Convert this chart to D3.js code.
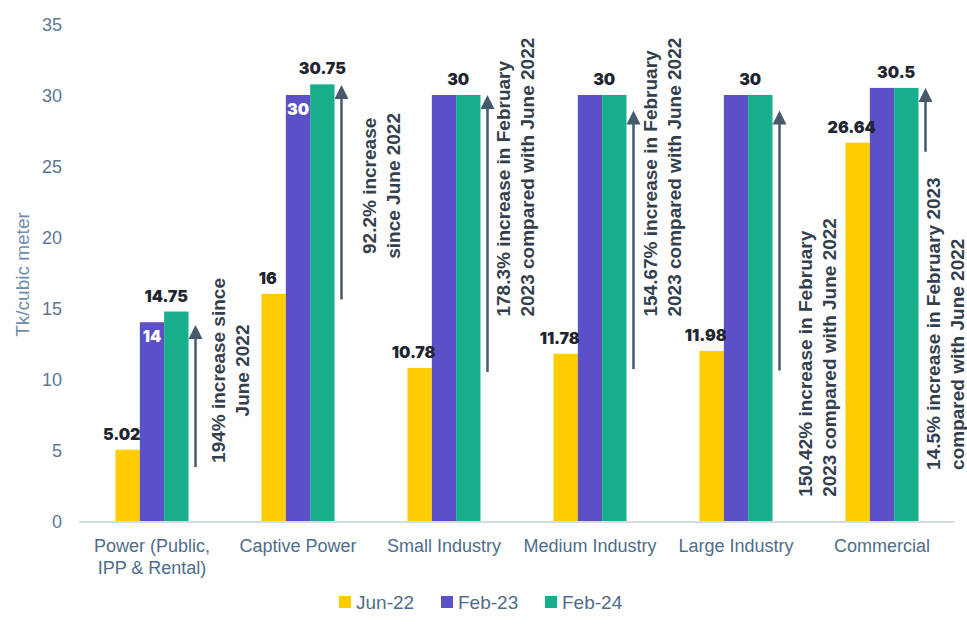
<!DOCTYPE html>
<html>
<head>
<meta charset="utf-8">
<script src="https://cdn.jsdelivr.net/npm/d3@7"></script>
<style>
  body { margin: 0; background: #fff; }
  text { font-family: "Liberation Sans", Arial, sans-serif; }
</style>
</head>
<body>
<div id="chart"></div>
<script>
// data
const categories = ["Power (Public, IPP & Rental)", "Captive Power", "Small Industry", "Medium Industry", "Large Industry", "Commercial"];
const seriesNames = ["Jun-22", "Feb-23", "Feb-24"];
const jun22 = [5.02, 16, 10.78, 11.78, 11.98, 26.64];
const feb23 = [14, 30, 30, 30, 30, 30.5];
const feb24 = [14.75, 30.75, 30, 30, 30, 30.5];
const yTicks = [0, 5, 10, 15, 20, 25, 30, 35];

// arrows: from / to in Tk values, text lines
const notes = [
  { cat: "Power (Public, IPP & Rental)", from: 3.8, to: 13.8, lines: ["194% increase since", "June 2022"], at: 10.6, anchor: "middle" },
  { cat: "Captive Power", from: 15.6, to: 30.7, lines: ["92.2% increase", "since June 2022"], at: 23.6, anchor: "middle" },
  { cat: "Small Industry", from: 10.5, to: 30.0, lines: ["178.3% increase in February", "2023 compared with June 2022"], at: 14.4, anchor: "start" },
  { cat: "Medium Industry", from: 10.7, to: 28.9, lines: ["154.67% increase in February", "2023 compared with June 2022"], at: 14.4, anchor: "start" },
  { cat: "Large Industry", from: 10.6, to: 28.9, lines: ["150.42% increase in February", "2023 compared with June 2022"], at: 1.7, anchor: "start" },
  { cat: "Commercial", from: 26.0, to: 30.5, lines: ["14.5% increase in February 2023", "compared with June 2022"], at: 3.6, anchor: "start" }
];
// layout: horizontal gap from arrow to first text line
const noteGap = { "Power (Public, IPP & Rental)": 23, "Captive Power": 28, "Small Industry": 16, "Medium Industry": 17, "Large Industry": 26, "Commercial": 8 };

const colors = { "Jun-22": "#FFCC00", "Feb-23": "#5B50C6", "Feb-24": "#17AF8B" };
const whiteFeb23 = ["Power (Public, IPP & Rental)", "Captive Power"];

const width = 967, height = 624;
const margin = { top: 24, right: 12, bottom: 103, left: 79 };

const rows = categories.map((c, i) => ({ cat: c, "Jun-22": jun22[i], "Feb-23": feb23[i], "Feb-24": feb24[i] }));

const svg = d3.select("#chart").append("svg")
  .attr("width", width)
  .attr("height", height);

const x = d3.scaleBand()
  .domain(categories)
  .range([margin.left, width - margin.right]);

const xs = d3.scaleBand()
  .domain(seriesNames)
  .range([x.bandwidth() * 0.25, x.bandwidth() * 0.75]);

const y = d3.scaleLinear()
  .domain([0, 35])
  .range([height - margin.bottom, margin.top]);

// y axis, no line and no ticks
const gy = svg.append("g")
  .attr("transform", `translate(${margin.left - 17},0)`)
  .call(d3.axisLeft(y).tickValues(yTicks).tickSize(0).tickPadding(0));
gy.select(".domain").remove();
gy.selectAll("text")
  .attr("fill", "#5a7896")
  .style("font-size", "18px")
  .attr("dy", "0.35em");

svg.append("text")
  .attr("transform", `translate(29,${y(17.5) + 2}) rotate(-90)`)
  .attr("text-anchor", "middle")
  .attr("fill", "#6e8dac")
  .style("font-size", "19px")
  .text("Tk/cubic meter");

// bars
const groups = svg.selectAll(".grp")
  .data(rows)
  .enter()
  .append("g")
  .attr("transform", d => `translate(${x(d.cat)},0)`);

groups.selectAll("rect")
  .data(d => seriesNames.map(s => ({ cat: d.cat, s: s, v: d[s] })))
  .enter()
  .append("rect")
  .attr("x", d => xs(d.s))
  .attr("width", xs.bandwidth())
  .attr("y", d => y(d.v))
  .attr("height", d => y(0) - y(d.v))
  .attr("fill", d => colors[d.s]);

// x axis line
svg.append("line")
  .attr("x1", margin.left).attr("x2", width - margin.right)
  .attr("y1", y(0) + 1).attr("y2", y(0) + 1)
  .attr("stroke", "#d3dce5")
  .attr("stroke-width", 2);

// category labels
const gx = svg.append("g");
categories.forEach(c => {
  const t = gx.append("text")
    .attr("x", x(c) + x.bandwidth() / 2)
    .attr("y", y(0) + 31)
    .attr("text-anchor", "middle")
    .attr("fill", "#4e6d8c")
    .style("font-size", "18px");
  if (c.startsWith("Power")) {
    t.append("tspan").attr("x", x(c) + x.bandwidth() / 2).text("Power (Public,");
    t.append("tspan").attr("x", x(c) + x.bandwidth() / 2).attr("dy", 22).text("IPP & Rental)");
  } else {
    t.text(c);
  }
});

// value labels
const lblFont = (sel) => sel
  .style("font-family", "Inter, 'DejaVu Sans', sans-serif")
  .style("font-weight", 900)
  .style("font-size", "16px")
  .attr("text-anchor", "middle");

groups.append("text")
  .call(lblFont)
  .attr("fill", "#1f2630")
  .attr("x", xs("Jun-22") + xs.bandwidth() / 2 - 6)
  .attr("y", d => y(d["Jun-22"]) - 10)
  .text(d => d["Jun-22"]);

groups.filter(d => whiteFeb23.includes(d.cat))
  .append("text")
  .call(lblFont)
  .attr("fill", "#ffffff")
  .attr("x", xs("Feb-23") + xs.bandwidth() / 2)
  .attr("y", d => y(d["Feb-23"]) + 20)
  .text(d => d["Feb-23"]);

groups.append("text")
  .call(lblFont)
  .attr("fill", "#1f2630")
  .attr("x", d => d.cat === "Captive Power" ? xs("Feb-24") + xs.bandwidth() / 2 : xs("Feb-24") + 2)
  .attr("y", d => y(d["Feb-24"]) - 10)
  .text(d => d["Feb-24"]);

// arrows + notes
const arrowCol = "#46596d";
notes.forEach(n => {
  const ax = x(n.cat) + xs("Feb-24") + xs.bandwidth() + 7;
  svg.append("line")
    .attr("x1", ax).attr("x2", ax)
    .attr("y1", y(n.from)).attr("y2", y(n.to) + 12)
    .attr("stroke", arrowCol)
    .attr("stroke-width", 2.5);
  svg.append("path")
    .attr("d", `M${ax - 7},${y(n.to) + 14} L${ax},${y(n.to)} L${ax + 7},${y(n.to) + 14} Z`)
    .attr("fill", arrowCol);
  n.lines.forEach((l, i) => {
    const tx = ax + noteGap[n.cat] + i * 24;
    svg.append("text")
      .attr("transform", `translate(${tx},${y(n.at)}) rotate(-90)`)
      .attr("text-anchor", n.anchor)
      .attr("dy", "0.35em")
      .attr("fill", "#333f4d")
      .style("font-size", "19px")
      .style("font-weight", "bold")
      .text(l);
  });
});

// legend
const legend = svg.append("g").attr("transform", `translate(339,${height - 22})`);
const legX = [0, 102, 206];
seriesNames.forEach((s, i) => {
  legend.append("rect")
    .attr("x", legX[i]).attr("y", -6)
    .attr("width", 12).attr("height", 12)
    .attr("fill", colors[s]);
  legend.append("text")
    .attr("x", legX[i] + 17).attr("y", 0)
    .attr("dy", "0.35em")
    .attr("fill", "#4e6d8c")
    .style("font-size", "19px")
    .text(s);
});
</script>
</body>
</html>
